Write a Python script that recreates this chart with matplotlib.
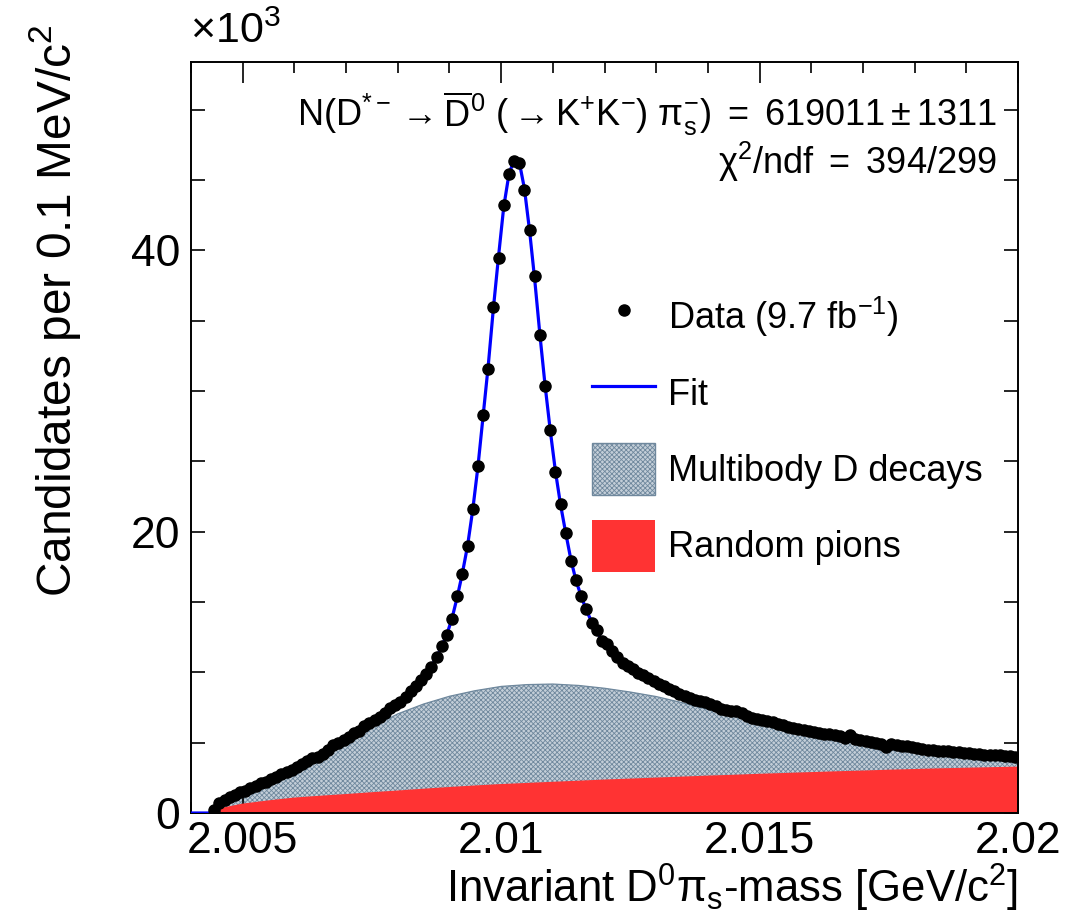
import matplotlib
matplotlib.use("Agg")
import matplotlib.pyplot as plt
from matplotlib.patches import Patch
from matplotlib.lines import Line2D
from matplotlib.ticker import MultipleLocator
import numpy as np

plt.rcParams['font.family'] = ['Liberation Sans', 'DejaVu Sans']
plt.rcParams['mathtext.fontset'] = 'custom'
plt.rcParams['mathtext.rm'] = 'Liberation Sans'
plt.rcParams['mathtext.it'] = 'Liberation Sans:italic'
plt.rcParams['mathtext.bf'] = 'Liberation Sans:bold'
plt.rcParams['hatch.linewidth'] = 0.6

# D*- -> D0 pi_s mass histogram, 0.1 MeV bins, counts in units of 10^3
bin_lo = 2.0044
bin_width = 0.0001
counts = [
    0.20, 0.71, 0.92, 1.11, 1.28, 1.46, 1.60, 1.78, 1.93, 2.10,
    2.24, 2.44, 2.58, 2.77, 2.93, 3.07, 3.27, 3.50, 3.71, 3.91,
    4.01, 4.19, 4.48, 4.82, 4.95, 5.19, 5.44, 5.66, 5.86, 6.16,
    6.42, 6.59, 6.83, 7.10, 7.47, 7.70, 7.92, 8.28, 8.68, 9.02,
    9.49, 9.91, 10.37, 11.08, 11.86, 12.68, 13.82, 15.44, 17.03, 18.99,
    21.60, 24.65, 28.28, 31.57, 35.97, 39.48, 43.20, 45.42, 46.39, 46.20,
    44.31, 41.47, 38.20, 33.96, 30.39, 27.26, 24.25, 21.98, 19.91, 17.90,
    16.60, 15.42, 14.49, 13.52, 13.00, 12.26, 12.04, 11.55, 11.12, 10.69,
    10.44, 10.22, 9.98, 9.80, 9.58, 9.36, 9.17, 9.00, 8.85, 8.64,
    8.48, 8.33, 8.17, 8.04, 7.93, 7.87, 7.78, 7.59, 7.42, 7.32,
    7.27, 7.27, 7.09, 6.92, 6.78, 6.68, 6.62, 6.54, 6.44, 6.35,
    6.24, 6.12, 6.02, 5.95, 5.87, 5.80, 5.74, 5.68, 5.63, 5.60,
    5.54, 5.51, 5.36, 5.54, 5.29, 5.19, 5.13, 5.07, 5.01, 4.94,
    4.67, 4.89, 4.85, 4.80, 4.75, 4.69, 4.62, 4.55, 4.49, 4.45,
    4.43, 4.41, 4.38, 4.35, 4.32, 4.28, 4.24, 4.21, 4.18, 4.16,
    4.14, 4.12, 4.10, 4.08, 4.05, 3.95,
]

# fit curve (signal + background)
fit_mass = [
    2.0040, 2.00441, 2.00445, 2.00455, 2.00465, 2.00475, 2.00495, 2.00515, 2.00535, 2.00555,
    2.00575, 2.00595, 2.00615, 2.00635, 2.00655, 2.00675, 2.00695, 2.00715, 2.00735, 2.00755,
    2.00775, 2.00795, 2.00815, 2.00835, 2.00845, 2.00855, 2.00865, 2.00875, 2.00885, 2.00895,
    2.00905, 2.00915, 2.00925, 2.00935, 2.00945, 2.00955, 2.00965, 2.00975, 2.00985, 2.00995,
    2.01005, 2.01015, 2.01025, 2.01030, 2.01035, 2.01045, 2.01055, 2.01065, 2.01075, 2.01085,
    2.01095, 2.01105, 2.01115, 2.01125, 2.01135, 2.01145, 2.01155, 2.01165, 2.01175, 2.01185,
    2.01195, 2.01205, 2.01215, 2.01225, 2.01235, 2.01245, 2.01255, 2.01265, 2.01275, 2.01285,
    2.01295, 2.01305, 2.01315, 2.01325, 2.01345, 2.01365, 2.01385, 2.01405, 2.01425, 2.01445,
    2.01465, 2.01485, 2.01505, 2.01525, 2.01545, 2.01565, 2.01585, 2.01605, 2.01625, 2.01645,
    2.01665, 2.01685, 2.01705, 2.01725, 2.01745, 2.01765, 2.01785, 2.01805, 2.01825, 2.01845,
    2.01865, 2.01885, 2.01905, 2.01925, 2.01945, 2.01965, 2.01985, 2.0200,
]
fit_counts = [
    0.0, 0.0, 0.25, 0.70, 0.95, 1.13, 1.45, 1.78, 2.10, 2.42,
    2.75, 3.08, 3.45, 3.85, 4.20, 4.75, 5.15, 5.62, 6.12, 6.62,
    7.12, 7.70, 8.32, 9.05, 9.48, 9.95, 10.45, 11.05, 11.85, 12.70,
    13.85, 15.35, 17.05, 19.00, 21.55, 24.60, 28.20, 31.80, 35.90, 39.60,
    43.10, 45.40, 46.45, 46.55, 46.30, 44.40, 41.40, 37.90, 34.00, 30.40,
    27.20, 24.30, 21.90, 19.90, 18.00, 16.50, 15.40, 14.40, 13.60, 12.90,
    12.30, 11.80, 11.35, 10.95, 10.60, 10.30, 10.05, 9.82, 9.60, 9.40,
    9.20, 9.02, 8.85, 8.70, 8.42, 8.15, 7.90, 7.68, 7.47, 7.27,
    7.08, 6.90, 6.63, 6.45, 6.25, 6.05, 5.88, 5.75, 5.62, 5.50,
    5.38, 5.25, 5.13, 5.00, 4.88, 4.77, 4.65, 4.55, 4.46, 4.39,
    4.33, 4.27, 4.22, 4.17, 4.13, 4.09, 4.05, 4.02,
]

# background components, sampled every 0.5 MeV
bkg_mass = [
    2.00441, 2.0045, 2.0050, 2.0055, 2.0060, 2.0065, 2.0070, 2.0075, 2.0080, 2.0085,
    2.0090, 2.0095, 2.0100, 2.0105, 2.0110, 2.0115, 2.0120, 2.0125, 2.0130, 2.0135,
    2.0140, 2.0145, 2.0150, 2.0155, 2.0160, 2.0165, 2.0170, 2.0175, 2.0180, 2.0185,
    2.0190, 2.0195, 2.0200,
]
# top of the stacked "multibody + random pions" area
multibody_stacked = [
    0.0, 0.40, 1.20, 2.15, 3.00, 3.95, 5.00, 6.10, 7.05, 7.75,
    8.30, 8.70, 9.00, 9.13, 9.17, 9.07, 8.87, 8.60, 8.28, 7.85,
    7.37, 7.00, 6.55, 6.00, 5.68, 5.40, 5.10, 4.82, 4.58, 4.35,
    4.16, 3.98, 3.80,
]
random_pions = [
    0.0, 0.30, 0.67, 0.90, 1.10, 1.23, 1.35, 1.48, 1.60, 1.73,
    1.85, 1.96, 2.06, 2.14, 2.22, 2.30, 2.38, 2.45, 2.52, 2.59,
    2.66, 2.72, 2.79, 2.85, 2.91, 2.97, 3.02, 3.08, 3.13, 3.18,
    3.22, 3.26, 3.30,
]

x_ticks = [2.005, 2.01, 2.015, 2.02]
x_tick_labels = ['2.005', '2.01', '2.015', '2.02']
y_ticks = [0, 20, 40]
y_tick_labels = ['0', '20', '40']

centers = bin_lo + bin_width * (np.arange(len(counts)) + 0.5)

gray_face = '#c3ced8'
gray_edge = '#6f889d'
red = '#ff3333'

fig = plt.figure(figsize=(10.66, 9.17), dpi=100)
ax = fig.add_axes([0.1792, 0.1134, 0.7758, 0.8190])

ax.fill_between(bkg_mass, 0, multibody_stacked, facecolor=gray_face, edgecolor=gray_edge,
                hatch='xxxxxxx', linewidth=0, zorder=1)
ax.plot(bkg_mass, multibody_stacked, color=gray_edge, lw=0.9, zorder=1.5)
ax.fill_between(bkg_mass, 0, random_pions, facecolor=red, edgecolor='none', linewidth=0, zorder=2)
ax.plot(fit_mass, fit_counts, color='#0000ff', lw=2.3, zorder=3)
ax.plot(centers, counts, 'o', color='black', ms=8, zorder=4)

ax.set_xlim(2.004, 2.020)
ax.set_ylim(0, 53.4)
ax.set_xticks(x_ticks, x_tick_labels)
ax.set_yticks(y_ticks, y_tick_labels)
ax.xaxis.set_minor_locator(MultipleLocator(0.001))
ax.yaxis.set_minor_locator(MultipleLocator(5))
ax.tick_params(axis='both', which='both', direction='in', top=True, right=True,
               width=1.2, labelsize=32)
ax.tick_params(axis='x', which='major', length=15, pad=6)
ax.tick_params(axis='x', which='minor', length=8)
ax.tick_params(axis='y', which='both', length=10, pad=8)
for sp in ax.spines.values():
    sp.set_linewidth(1.4)

fig.text(0.178, 0.943, r'$\mathrm{\times10^{3}}$', fontsize=31, ha='left', va='bottom')

ax.text(0.9746, 0.932,
        r'$\mathrm{N(D^{*-}\rightarrow\overline{D}^{0}\ (\rightarrow K^{+}K^{-})\ \pi_{s}^{-})\ =\ 619011\pm1311}$',
        transform=ax.transAxes, ha='right', va='center', fontsize=26)
ax.text(0.9746, 0.867, r'$\mathrm{\chi^{2}/ndf\ =\ 394/299}$',
        transform=ax.transAxes, ha='right', va='center', fontsize=26)

fig.text(55 / 1066, 1 - 311 / 917, r'Candidates per 0.1 MeV/$\mathrm{c^{2}}$',
         rotation=90, ha='center', va='center', fontsize=34.5)
fig.text(1018 / 1066, 1 - 888 / 917, r'Invariant $\mathrm{D^{0}\pi_{s}}$-mass [GeV/$\mathrm{c^{2}}$]',
         ha='right', va='center', fontsize=31.5)

handles = [
    Line2D([], [], marker='o', ls='none', color='black', ms=8),
    Line2D([], [], color='#0000ff', lw=2.3),
    Patch(facecolor=gray_face, edgecolor=gray_edge, hatch='xxxxxxx', linewidth=1),
    Patch(facecolor=red, edgecolor=red, linewidth=0),
]
labels = [r'Data (9.7 fb$^{\mathrm{-1}}$)', 'Fit', 'Multibody D decays', 'Random pions']
fig.legend(handles, labels, loc='upper left', bbox_to_anchor=(0.5553, 0.6827),
           bbox_transform=fig.transFigure, frameon=False, fontsize=26,
           handlelength=1.75, handleheight=1.84, handletextpad=0.36,
           labelspacing=0.67, borderpad=0, borderaxespad=0)

fig.savefig('out.png', dpi=100)
